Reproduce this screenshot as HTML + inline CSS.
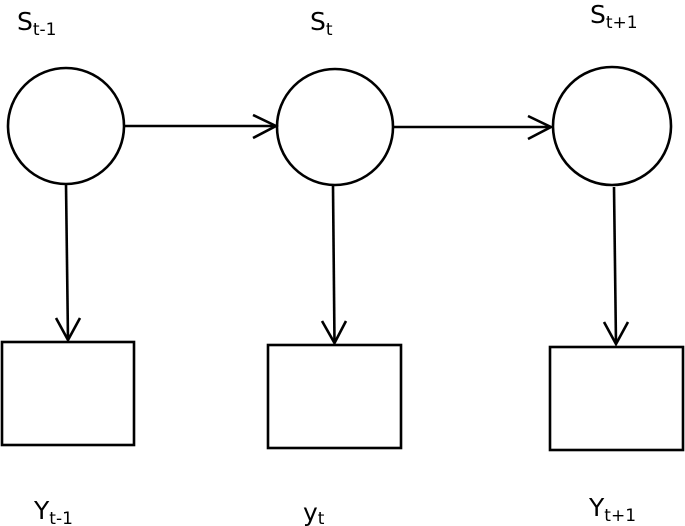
<!DOCTYPE html>
<html><head><meta charset="utf-8"><style>
html,body{margin:0;padding:0;background:#fff;width:685px;height:526px;overflow:hidden}
svg{display:block}
text{font-family:"DejaVu Sans","Liberation Sans",sans-serif;fill:#000}
</style></head><body>
<svg width="685" height="526" viewBox="0 0 685 526" xmlns="http://www.w3.org/2000/svg">
<g fill="none" stroke="#000" stroke-width="2.6">
<circle cx="66" cy="126" r="58"/>
<circle cx="335" cy="127" r="58"/>
<circle cx="612" cy="126" r="59"/>
<line x1="124" y1="126" x2="276" y2="126"/>
<polyline points="253,115 276,126 253,138"/>
<line x1="393" y1="127" x2="551" y2="127"/>
<polyline points="528,116 551,127 528,139"/>
<line x1="66" y1="184" x2="68" y2="340"/>
<polyline points="56,318 68,340 80,318"/>
<line x1="333" y1="186" x2="334.5" y2="343"/>
<polyline points="322,321 334.5,343 346,321"/>
<line x1="614" y1="187" x2="616" y2="344"/>
<polyline points="604,322 616,344 628,322"/>
<rect x="2" y="342" width="132" height="103"/>
<rect x="268" y="345" width="133" height="103"/>
<rect x="550" y="347" width="133" height="103"/>
</g>
<text x="17" y="30" font-size="25">S<tspan font-size="17" dy="5">t-1</tspan></text>
<text x="310" y="30" font-size="25">S<tspan font-size="17" dy="5">t</tspan></text>
<text x="590" y="23" font-size="25">S<tspan font-size="17" dy="5">t+1</tspan></text>
<text x="34" y="519" font-size="25">Y<tspan font-size="17" dy="5">t-1</tspan></text>
<text x="303" y="521" font-size="25">y<tspan font-size="17" dy="3">t</tspan></text>
<text x="589" y="516" font-size="25">Y<tspan font-size="17" dy="5">t+1</tspan></text>
</svg>
</body></html>
